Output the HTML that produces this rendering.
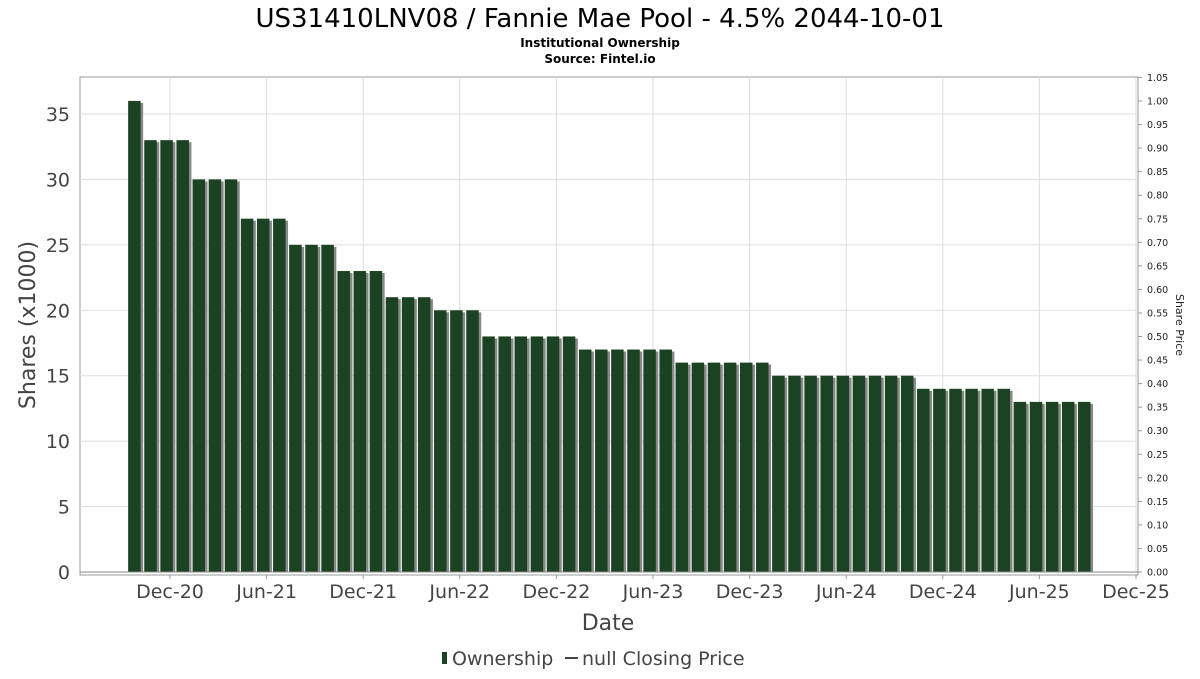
<!DOCTYPE html>
<html><head><meta charset="utf-8"><style>
body{margin:0;background:#fff;font-family:"DejaVu Sans","Liberation Sans",sans-serif;}
</style></head><body>
<svg id="chart" width="1200" height="675" xmlns="http://www.w3.org/2000/svg">
<text x="600" y="27" text-anchor="middle" font-size="26" fill="#000">US31410LNV08 / Fannie Mae Pool - 4.5% 2044-10-01</text>
<text x="600" y="47" text-anchor="middle" font-size="12" font-weight="bold">Institutional Ownership</text>
<text x="600" y="63" text-anchor="middle" font-size="12" font-weight="bold">Source: Fintel.io</text>
<rect x="80" y="77" width="1058" height="498" fill="#fff" stroke="#999"/>
<g id="grid"></g><g id="bars"></g><g id="axes"></g>
<text x="608" y="630" text-anchor="middle" font-size="22" fill="#444">Date</text>
<text transform="translate(35,325) rotate(-90)" text-anchor="middle" font-size="22" fill="#444">Shares (x1000)</text>
<text transform="translate(1176,325) rotate(90)" text-anchor="middle" font-size="11" fill="#222">Share Price</text>
<g>
<rect x="442" y="652" width="5" height="12" fill="#1a4223"/>
<text x="452" y="665" font-size="19" fill="#444">Ownership</text>
<line x1="565" y1="658" x2="578" y2="658" stroke="#444" stroke-width="2"/>
<text x="582" y="665" font-size="19" fill="#444">null Closing Price</text>
</g>
</svg>
<script>
const values=[36,33,33,33,30,30,30,27,27,27,25,25,25,23,23,23,21,21,21,20,20,20,18,18,18,18,18,18,17,17,17,17,17,17,16,16,16,16,16,16,15,15,15,15,15,15,15,15,15,14,14,14,14,14,14,13,13,13,13,13];
const firstMonthOffset=-2.6; // months relative to Dec-20
const xTickLabels=["Dec-20","Jun-21","Dec-21","Jun-22","Dec-22","Jun-23","Dec-23","Jun-24","Dec-24","Jun-25","Dec-25"];
const yTicks=[0,5,10,15,20,25,30,35];
const priceTicks=[0,0.05,0.1,0.15,0.2,0.25,0.3,0.35,0.4,0.45,0.5,0.55,0.6,0.65,0.7,0.75,0.8,0.85,0.9,0.95,1.0,1.05];
const NS="http://www.w3.org/2000/svg";
const xM=m=>170+m*16.1;
const yS=v=>572-v*13.086;
const yP=p=>572-p*471;
function mk(tag,attrs,parent,txt){const e=document.createElementNS(NS,tag);for(const k in attrs)e.setAttribute(k,attrs[k]);if(txt!==undefined)e.textContent=txt;document.getElementById(parent).appendChild(e);return e;}
yTicks.forEach(v=>{
 if(v>0){const g=mk('line',{x1:80,x2:1138,y1:yS(v),y2:yS(v),stroke:'#ddd'},'grid');
 
 }
 const t=mk('text',{x:70,y:yS(v)+7,'text-anchor':'end','font-size':19,fill:'#444'},'axes',String(v));
 
 
});
xTickLabels.forEach((l,i)=>{
 const x=xM(i*6);
 const g=mk('line',{x1:x,x2:x,y1:77,y2:572,stroke:'#ddd'},'grid');
 
 
 const tk=mk('line',{x1:x,x2:x,y1:575,y2:579,stroke:'#999'},'axes');
 
 
 const t=mk('text',{x:x,y:598,'text-anchor':'middle','font-size':19,fill:'#444'},'axes',l);
 
 
});
priceTicks.forEach(p=>{
 const tk=mk('line',{x1:1138,x2:1142,y1:yP(p),y2:yP(p),stroke:'#999'},'axes');
 
 
 const t=mk('text',{x:1147,y:yP(p)+3.5,'font-size':9.5,fill:'#222'},'axes',p.toFixed(2));
 
 
});
const ax=mk('line',{x1:80,x2:1138,y1:572,y2:572,stroke:'#888'},'axes');


values.forEach((v,i)=>{
 const x=xM(firstMonthOffset+i)-42+128-128;
 const left=xM(firstMonthOffset+i)-0;
 const s=mk('rect',{x:left+3,y:yS(v)+2,width:12,height:572-yS(v)-2,fill:'#888'},'bars');
 
 
 const b=mk('rect',{x:left,y:yS(v),width:12.5,height:572-yS(v),fill:'#1a4223'},'bars');
 
 
});
</script>
</body></html>
